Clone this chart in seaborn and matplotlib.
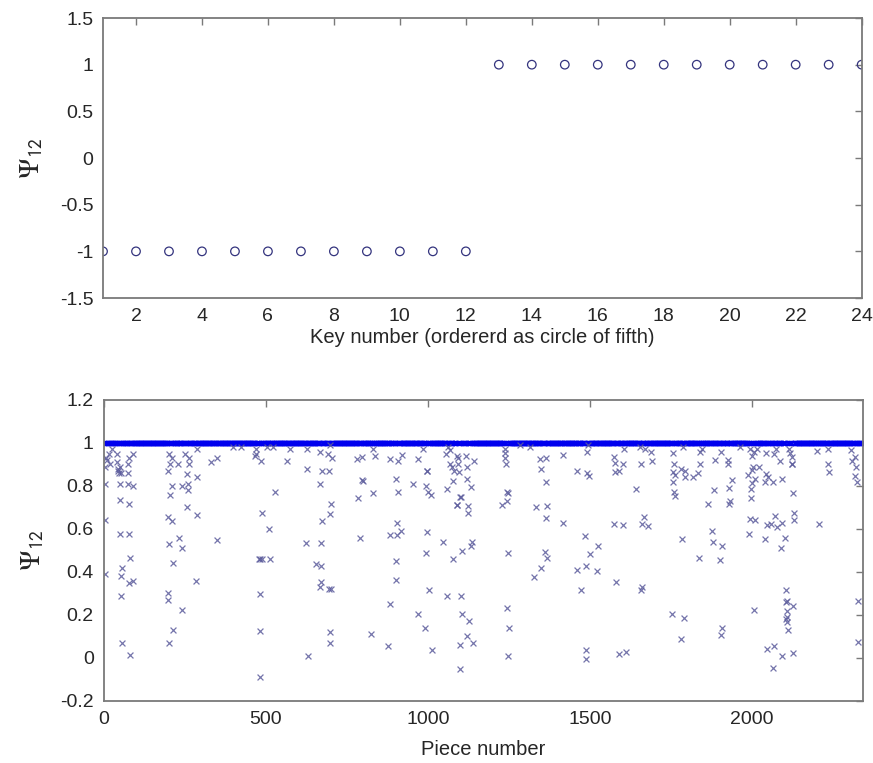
import numpy as np
import pandas as pd
import matplotlib
matplotlib.use("Agg")
from matplotlib import pyplot as plt
import seaborn as sns

# ---- top panel: Psi_12 per key (keys ordered by circle of fifths) ----
KEYS = list(range(1, 25))
PSI_KEYS = [-1] * 12 + [1] * 12

# ---- bottom panel: Psi_12 per piece ----
N_PIECES = 2340
# pieces that deviate from 1 (piece number, value)
OUT_PIECE = [
    4, 4, 4, 8, 12, 16, 20, 6, 25, 46, 44, 48, 40, 43, 50, 51, 51, 51, 57, 54, 54, 57, 54,
    78, 78, 75, 92, 82, 78, 92, 82, 76, 76, 80, 92,
    200, 210, 205, 200, 210, 202, 213, 200, 200, 213, 202, 201, 206, 211,
    232, 243, 243, 231, 241, 259, 261, 258, 257, 262, 250, 265,
    287, 288, 286, 289, 331, 349, 350, 400, 425,
    469, 467, 470, 485, 488, 478, 483, 489, 514, 511, 529, 484, 482, 481,
    503, 524, 565, 575, 626, 627, 625, 629,
    673, 696, 667, 674, 697, 701, 671, 655, 672, 670, 669, 695, 700, 699, 698, 668, 693, 704, 698,
    783, 796, 784, 797, 799, 830, 791, 824, 831, 837,
    883, 907, 919, 901, 908, 904, 884, 905, 918, 903, 902, 882, 878,
    955, 969, 996, 998, 994, 1002, 1009, 997, 993, 1003, 970, 992, 1012, 986,
    1046, 1058, 1060, 1078, 1079, 1068, 1073, 1080, 1057, 1069, 1063,
    1089, 1094, 1092, 1095, 1102, 1100, 1090, 1091, 1122, 1120, 1133, 1142, 1123, 1125,
    1104, 1137, 1134, 1101, 1105, 1127, 1121, 1139, 1099, 1098, 1119,
    1238, 1237, 1239, 1241, 1243, 1248, 1245, 1228, 1246, 1244, 1249, 1247,
    1284, 1315, 1346, 1364, 1349, 1365, 1333, 1366, 1363, 1416, 1417, 1362, 1367, 1350, 1328,
    1459, 1490, 1496, 1485, 1526, 1500, 1488, 1460, 1523, 1472, 1489, 1487, 1492, 1494,
    1574, 1577, 1578, 1588, 1603, 1604, 1641, 1575, 1602, 1659, 1668, 1680, 1579, 1656, 1660,
    1591, 1611, 1657, 1690, 1654, 1670, 1687,
    1755, 1759, 1757, 1762, 1756, 1758, 1763, 1781, 1793, 1794, 1817, 1834, 1783, 1754, 1791,
    1780, 1788,
    1839, 1844, 1840, 1884, 1903, 1925, 1927, 1937, 1881, 1930, 1865, 1928, 1932, 1877, 1878,
    1836, 1906, 1902, 1907, 1904, 1963,
    1988, 1999, 2004, 2009, 2022, 2000, 1996, 1997, 1994, 2010, 1989, 2006, 2001, 2005, 1992, 2014,
    2043, 2066, 2074, 2044, 2050, 2040, 2064, 2091, 2086, 2045, 2057, 2071, 2078, 2092, 2041,
    2090, 2102,
    2105, 2106, 2103, 2127, 2107, 2108, 2104, 2109, 2112, 2047, 2068, 2093, 2125, 2063,
    2115, 2116, 2122, 2123, 2124, 2126, 2128, 2129,
    2201, 2207, 2235, 2234, 2236, 2304, 2307, 2317, 2320, 2318, 2322, 2325, 2326,
]
OUT_VALUE = [
    0.81, 0.644, 0.39, 0.93, 0.92, 0.95, 0.90, 0.89, 0.97, 0.88, 0.87, 0.86, 0.95, 0.91, 0.89, 0.81, 0.737, 0.577, 0.42, 0.38, 0.29, 0.07, 0.86,
    0.577, 0.714, 0.81, 0.80, 0.465, 0.35, 0.358, 0.016, 0.86, 0.90, 0.93, 0.95,
    0.87, 0.80, 0.76, 0.656, 0.636, 0.532, 0.44, 0.30, 0.27, 0.132, 0.07, 0.95, 0.90, 0.93,
    0.56, 0.513, 0.222, 0.904, 0.80, 0.81, 0.78, 0.70, 0.857, 0.904, 0.95, 0.93,
    0.84, 0.665, 0.358, 0.97, 0.91, 0.93, 0.55, 0.98, 0.98,
    0.95, 0.94, 0.97, 0.915, 0.674, 0.462, 0.462, 0.462, 0.458, 0.60, 0.772, 0.296, 0.127, -0.09,
    0.98, 0.98, 0.915, 0.97, 0.97, 0.88, 0.537, 0.008,
    0.87, 0.87, 0.81, 0.636, 0.67, 0.714, 0.537, 0.436, 0.43, 0.352, 0.33, 0.32, 0.32, 0.123, 0.07, 0.96, 0.95, 0.93, 0.99,
    0.927, 0.935, 0.746, 0.83, 0.825, 0.767, 0.56, 0.113, 0.97, 0.94,
    0.927, 0.916, 0.945, 0.834, 0.772, 0.63, 0.57, 0.57, 0.59, 0.453, 0.363, 0.253, 0.056,
    0.81, 0.927, 0.87, 0.87, 0.80, 0.772, 0.758, 0.585, 0.487, 0.315, 0.203, 0.14, 0.039, 0.97,
    0.541, 0.786, 0.287, 0.462, 0.823, 0.90, 0.89, 0.87, 0.95, 0.965, 0.98,
    0.94, 0.93, 0.90, 0.865, 0.75, 0.75, 0.713, 0.713, 0.834, 0.89, 0.794, 0.915, 0.705, 0.675,
    0.496, 0.54, 0.522, 0.288, 0.206, 0.172, 0.101, 0.07, 0.059, -0.05, 0.94,
    0.97, 0.955, 0.93, 0.90, 0.772, 0.765, 0.732, 0.71, 0.487, 0.233, 0.14, 0.011,
    0.99, 0.98, 0.927, 0.93, 0.878, 0.817, 0.70, 0.709, 0.65, 0.63, 0.946, 0.492, 0.467, 0.42, 0.377,
    0.87, 0.86, 0.845, 0.567, 0.522, 0.484, 0.43, 0.408, 0.403, 0.315, 0.036, -0.003, 0.958, 0.99,
    0.935, 0.907, 0.865, 0.87, 0.904, 0.97, 0.786, 0.625, 0.617, 0.625, 0.656, 0.612, 0.354, 0.315, 0.33,
    0.02, 0.03, 0.90, 0.915, 0.98, 0.97, 0.96,
    0.953, 0.904, 0.865, 0.85, 0.819, 0.772, 0.754, 0.88, 0.87, 0.84, 0.842, 0.862, 0.555, 0.206, 0.188,
    0.087, 0.98,
    0.96, 0.97, 0.904, 0.923, 0.958, 0.92, 0.904, 0.83, 0.782, 0.79, 0.718, 0.718, 0.729, 0.591, 0.541,
    0.465, 0.52, 0.457, 0.141, 0.106, 0.98,
    0.85, 0.873, 0.888, 0.834, 0.888, 0.814, 0.788, 0.746, 0.648, 0.643, 0.578, 0.225, 0.94, 0.958, 0.97, 0.97,
    0.955, 0.95, 0.97, 0.854, 0.842, 0.819, 0.819, 0.834, 0.915, 0.62, 0.622, 0.661, 0.61, 0.63, 0.555,
    0.51, 0.558,
    0.318, 0.265, 0.26, 0.243, 0.217, 0.19, 0.18, 0.168, 0.129, 0.042, 0.056, 0.008, 0.025, -0.045,
    0.97, 0.955, 0.935, 0.904, 0.904, 0.765, 0.674, 0.643,
    0.963, 0.625, 0.97, 0.904, 0.865, 0.966, 0.915, 0.935, 0.888, 0.845, 0.819, 0.265, 0.075,
]

# every other piece sits at Psi_12 = 1
pieces = np.arange(1, N_PIECES + 1)
base = pieces[~np.isin(pieces, OUT_PIECE)]
band = pd.DataFrame({"piece": base, "psi": np.ones(len(base))})
outl = pd.DataFrame({"piece": OUT_PIECE, "psi": OUT_VALUE})
keys = pd.DataFrame({"key": KEYS, "psi": PSI_KEYS})

sns.set_style("white")
plt.rcParams["font.family"] = ["Liberation Sans", "DejaVu Sans"]
plt.rcParams["axes.unicode_minus"] = False
plt.rcParams["mathtext.fontset"] = "stix"

AX_COL = "#7a7a7a"
fig = plt.figure(figsize=(8.73, 7.63), dpi=100)
ax1 = fig.add_axes([0.118, 0.6094, 0.869, 0.367])
ax2 = fig.add_axes([0.1186, 0.0813, 0.870, 0.3945])

sns.scatterplot(data=keys, x="key", y="psi", ax=ax1, marker="o", s=38,
                facecolor="none", edgecolor="#34347e", linewidth=0.9)
ax1.set_xlim(1, 24)
ax1.set_ylim(-1.5, 1.5)
ax1.set_xticks(range(2, 25, 2))
ax1.set_yticks([-1.5, -1, -0.5, 0, 0.5, 1, 1.5])
ax1.set_yticklabels(["-1.5", "-1", "-0.5", "0", "0.5", "1", "1.5"])
ax1.set_xlabel("Key number (ordererd as circle of fifth)", fontsize=14.5, labelpad=2)

sns.scatterplot(data=band, x="piece", y="psi", ax=ax2, marker="x", s=12,
                color="#0000ee", linewidth=0.9)
sns.scatterplot(data=outl, x="piece", y="psi", ax=ax2, marker="x", s=18,
                color="#5c5c9c", alpha=0.85, linewidth=0.9)
ax2.set_xlim(0, 2342)
ax2.set_ylim(-0.2, 1.2)
ax2.set_xticks([0, 500, 1000, 1500, 2000])
ax2.set_yticks([-0.2, 0, 0.2, 0.4, 0.6, 0.8, 1, 1.2])
ax2.set_yticklabels(["-0.2", "0", "0.2", "0.4", "0.6", "0.8", "1", "1.2"])
ax2.set_xlabel("Piece number", fontsize=14.5, labelpad=9)

for ax in (ax1, ax2):
    ax.set_ylabel(r"$\Psi_{\mathsf{12}}$", fontsize=20, labelpad=10)
    ax.tick_params(direction="in", length=5, width=1, color=AX_COL,
                   labelsize=14, top=True, right=True, pad=7)
    for sp in ax.spines.values():
        sp.set_color(AX_COL)
        sp.set_linewidth(1.3)

fig.savefig("out.png", dpi=100)
